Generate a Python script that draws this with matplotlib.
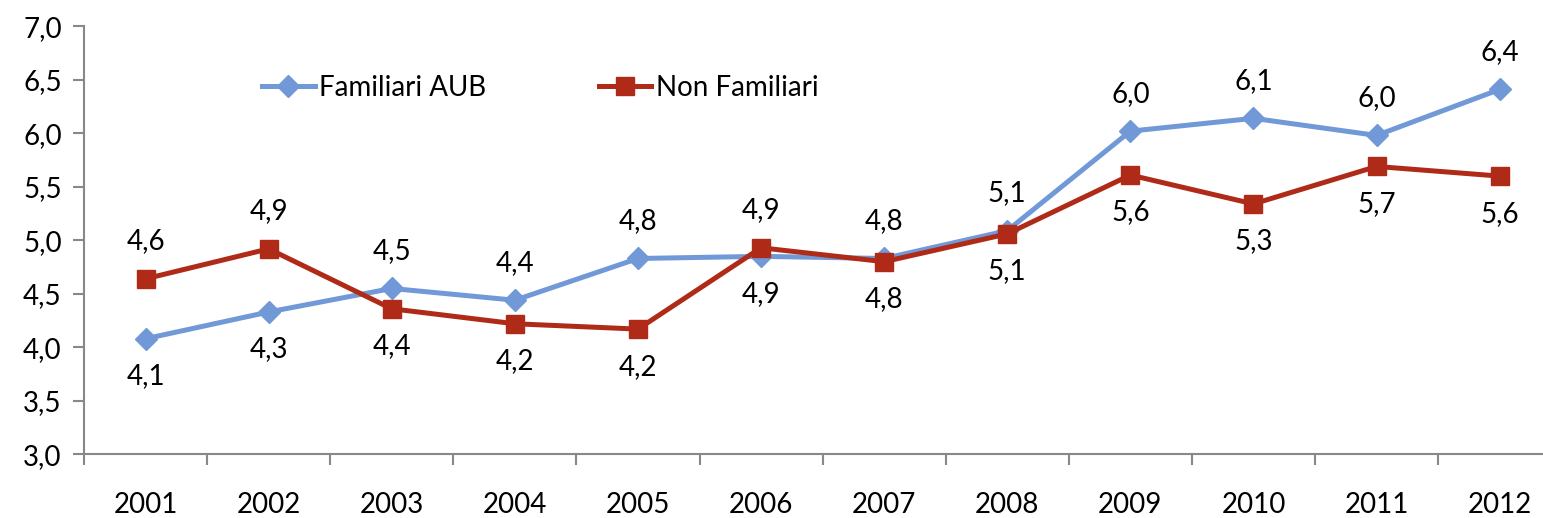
import matplotlib
matplotlib.use("Agg")
import matplotlib.pyplot as plt
from matplotlib.ticker import FuncFormatter

years = ["2001", "2002", "2003", "2004", "2005", "2006", "2007", "2008", "2009", "2010", "2011", "2012"]
familiari = [4.08, 4.33, 4.55, 4.44, 4.83, 4.85, 4.83, 5.09, 6.02, 6.14, 5.98, 6.41]
non_familiari = [4.64, 4.92, 4.36, 4.22, 4.17, 4.93, 4.80, 5.06, 5.61, 5.34, 5.69, 5.60]
fam_labels = ["4,1", "4,3", "4,5", "4,4", "4,8", "4,9", "4,8", "5,1", "6,0", "6,1", "6,0", "6,4"]
non_labels = ["4,6", "4,9", "4,4", "4,2", "4,2", "4,9", "4,8", "5,1", "5,6", "5,3", "5,7", "5,6"]
# label placement: +1 above, -1 below
fam_side = [-1, -1, 1, 1, 1, -1, 1, 1, 1, 1, 1, 1]
non_side = [1, 1, -1, -1, -1, 1, -1, -1, -1, -1, -1, -1]

BLUE = "#7199D8"
RED = "#B02A18"
GRAY = "#888888"
FS = 20

plt.rcParams['font.family'] = ['Lato', 'DejaVu Sans']

fig = plt.figure(figsize=(15.43, 5.18), dpi=100)
W, H = 1543, 518
ax = fig.add_axes([84 / W, 1 - 454.3 / H, 1 - 84 / W, (454.3 - 26.3) / H])

x = list(range(len(years)))
ax.plot(x, familiari, color=BLUE, lw=3.6, marker="D", ms=11, mec=BLUE, mfc=BLUE,
        label="Familiari AUB", zorder=3)
ax.plot(x, non_familiari, color=RED, lw=3.6, marker="s", ms=13, mec=RED, mfc=RED,
        label="Non Familiari", zorder=4)

for xi, v, t, s in zip(x, familiari, fam_labels, fam_side):
    ax.annotate(t, (xi, v), xytext=(0, 27 * s), textcoords="offset points",
                ha="center", va="center", fontsize=FS, color="black")
for xi, v, t, s in zip(x, non_familiari, non_labels, non_side):
    ax.annotate(t, (xi, v), xytext=(0, 27 * s), textcoords="offset points",
                ha="center", va="center", fontsize=FS, color="black")

ax.set_yticks([3.0, 3.5, 4.0, 4.5, 5.0, 5.5, 6.0, 6.5, 7.0])
ax.yaxis.set_major_formatter(FuncFormatter(lambda v, p: f"{v:.1f}".replace(".", ",")))
ax.set_xticks([i - 0.5 for i in range(len(years) + 1)])
ax.set_xticklabels([])
ax.set_xticks(x, minor=True)
ax.set_xticklabels(years, minor=True)
ax.set_ylim(3.0, 7.0)
ax.set_xlim(-0.5, (W - 84) / 123.1 - 0.5)
ax.tick_params(axis="x", which="minor", length=0, pad=27, labelsize=FS)
ax.tick_params(axis="x", which="major", length=8, width=1.5, color=GRAY, direction="out")
ax.tick_params(axis="y", length=8, width=1.5, color=GRAY, labelsize=FS, pad=8)

for side in ["top", "right"]:
    ax.spines[side].set_visible(False)
for side in ["left", "bottom"]:
    ax.spines[side].set_color(GRAY)
    ax.spines[side].set_linewidth(1.5)

leg = ax.legend(loc="center left", bbox_to_anchor=((262 - 84) / (W - 84), 1 - (88 - 26.3) / 428),
                ncol=2, frameon=False, fontsize=FS, handlelength=1.9, handletextpad=0.15,
                columnspacing=4.05, borderaxespad=0, borderpad=0)

fig.savefig("out.png", dpi=100)
